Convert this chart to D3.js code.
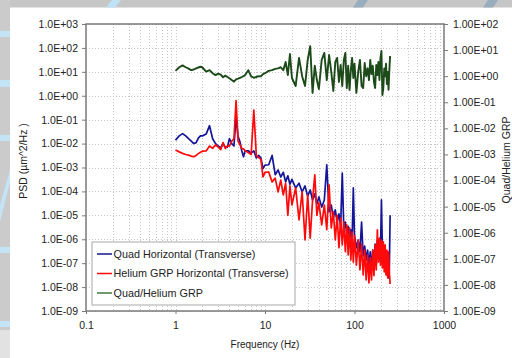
<!DOCTYPE html>
<html><head><meta charset="utf-8">
<script src="https://cdn.jsdelivr.net/npm/d3@7"></script>
<style>
body{margin:0;overflow:hidden;background:#fff}
svg{display:block}
text{font-family:"Liberation Sans",Arial,sans-serif;fill:#222}
</style>
</head><body>
<svg id="c" width="512" height="358"></svg>
<script>
// ---------------- data ----------------
const freq = [1,1.1,1.2,1.3,1.4,1.5,1.6,1.7,1.8,1.9,2,2.2,2.4,2.6,2.8,3,3.2,3.4,3.6,3.8,4,4.25,4.5,4.75,5,5.25,5.5,5.75,6,6.5,7,7.5,8,8.5,9,9.5,10,
  11,12,13,14,15,16,17,18,19,20,
  22,24,26,28,30,32,34,36,38,40,
  43,46,49,52,55,58,61,64,67,70,73,76,79,82,85,88,91,94,97,100,
  105,110,115,120,125,130,135,140,145,150,155,160,165,170,175,180,185,190,195,200,205,210,215,220,225,230,235,240,245,250];

const quadH = [1.4e-2,2.1e-2,2.6e-2,2.1e-2,1.6e-2,1.26e-2,1.0e-2,1.1e-2,1.7e-2,2.1e-2,2.1e-2,2.5e-2,5.6e-2,1.6e-2,1.0e-2,7.9e-3,6.6e-3,1.0e-2,7.1e-3,7.1e-3,1.6e-2,1.0e-2,7.9e-3,1.26e-1,2.0e-2,1.2e-2,5.0e-3,2.8e-3,5.0e-3,5.0e-3,4.0e-3,5.0e-3,2.5e-3,3.2e-3,2.5e-3,8.9e-4,1.26e-3,
  1.3e-3,3.2e-3,5.0e-4,7.9e-4,4.0e-4,6.3e-4,2.5e-4,4.5e-4,2.0e-4,3.2e-4,
  1.4e-4,2.2e-4,9.5e-5,1.7e-4,6.3e-5,1.15e-4,4.4e-5,7.9e-5,3.0e-5,5.9e-5,
  2.2e-5,4.4e-5,1.3e-3,1.4e-5,2.7e-5,7.9e-6,1.7e-5,5.2e-6,1.15e-5,3.5e-6,5.9e-4,2.5e-6,5.2e-6,1.7e-6,3.5e-6,1.1e-6,2.5e-6,7.1e-7,1.4e-4,1.4e-6,
  4.4e-7,9.3e-7,3.0e-7,5.2e-6,2.0e-7,5.2e-7,1.35e-7,3.5e-7,8.3e-8,3.0e-7,6.3e-8,3.5e-7,1.1e-7,6.3e-7,1.7e-7,9.3e-7,2.2e-7,1.1e-6,3.0e-7,4.4e-5,3.5e-7,1.1e-7,2.2e-7,6.3e-8,1.1e-7,3.2e-8,6.3e-8,2.4e-8,5.2e-8,1.0e-5];

const heliumH = [5.4e-3,4.5e-3,3.9e-3,3.5e-3,3.3e-3,3.0e-3,2.8e-3,3.2e-3,3.8e-3,4.3e-3,4.8e-3,4.9e-3,7.9e-3,6.3e-3,8.9e-3,7.1e-3,5.6e-3,1.1e-2,6.3e-3,7.9e-3,7.9e-3,1.26e-2,1.6e-2,6.3e-1,1.26e-2,8.9e-3,6.3e-3,6.0e-3,5.0e-3,4.2e-3,3.5e-3,2.5e-1,3.2e-3,2.6e-3,2.2e-3,4.0e-4,6.3e-4,
  6.5e-4,2.5e-4,3.6e-4,9.5e-5,3.0e-4,7.1e-5,2.2e-4,1.0e-5,1.7e-4,2.7e-5,
  1.4e-4,6.5e-6,9.5e-5,9.3e-7,7.1e-5,1.1e-6,4.4e-5,4.9e-4,1.0e-5,3.3e-5,
  4.0e-6,2.7e-5,2.5e-6,1.9e-4,3.0e-6,1.4e-5,9.3e-7,1.0e-5,4.4e-7,7.8e-6,5.8e-7,5.2e-6,3.0e-7,4.0e-6,2.2e-7,3.0e-6,1.35e-7,2.0e-6,1.1e-7,1.4e-6,
  8.3e-8,9.3e-7,5.2e-8,6.3e-7,3.2e-8,3.5e-7,2.0e-8,2.2e-7,1.5e-8,1.7e-7,2.0e-8,3.5e-7,3.0e-8,5.8e-7,5.2e-8,2.5e-6,1.1e-7,1.1e-6,8.3e-8,9.3e-7,6.3e-8,7.8e-7,4.3e-8,5.8e-7,3.2e-8,3.5e-7,2.4e-8,3.0e-7,4.3e-8,1.35e-8];

const ratio = [1.6,2.2,2.6,2.2,1.95,1.7,1.8,2.0,2.15,2.3,2.15,1.5,1.7,1.3,1.1,1.26,1.15,0.91,1.05,0.93,0.83,0.71,0.62,0.76,0.81,0.87,0.93,1.0,1.1,1.7,0.98,0.87,0.93,1.0,0.98,1.2,1.3,
  1.6,1.7,1.9,2.0,2.2,1.7,3.5,1.1,7.1,0.85,
  0.42,5.0,1.0,0.42,4.2,14,0.23,2.5,0.71,0.32,
  4.2,7.8,0.71,6.5,1.45,0.27,3.5,5.0,0.6,2.7,0.42,4.2,7.8,0.35,2.5,0.3,1.7,5.0,0.85,3.0,
  0.23,1.45,4.2,0.42,0.35,3.2,1.0,2.0,0.71,4.2,1.2,2.5,0.6,0.35,2.7,1.1,3.5,0.71,5.0,9.3,0.19,0.35,2.0,1.0,3.0,0.5,1.45,0.3,1.7,5.9];

const seriesNames = ["Quad Horizontal (Transverse)","Helium GRP Horizontal (Transverse)","Quad/Helium GRP"];
const xTickValues = [0.1,1,10,100,1000];
const xTickLabels = ["0.1","1","10","100","1000"];
const leftTickValues = [1e3,1e2,1e1,1e0,1e-1,1e-2,1e-3,1e-4,1e-5,1e-6,1e-7,1e-8,1e-9];
const leftTickLabels = ["1.0E+03","1.0E+02","1.0E+01","1.0E+00","1.0E-01","1.0E-02","1.0E-03","1.0E-04","1.0E-05","1.0E-06","1.0E-07","1.0E-08","1.0E-09"];
const rightTickValues = [1e2,1e1,1e0,1e-1,1e-2,1e-3,1e-4,1e-5,1e-6,1e-7,1e-8,1e-9];
const rightTickLabels = ["1.00E+02","1.00E+01","1.00E+00","1.00E-01","1.00E-02","1.00E-03","1.00E-04","1.00E-05","1.00E-06","1.00E-07","1.00E-08","1.00E-09"];
const xTitle = "Frequency (Hz)";
const yLeftTitle = "PSD (\u00b5m^2/Hz )";
const yRightTitle = "Quad/Helium GRP";

// ---------------- drawing ----------------
const W = 512, H = 358;
const P = {l:86, t:24, r:444, b:311};
const svg = d3.select("#c");

svg.append("rect").attr("width",W).attr("height",H).attr("fill","#fff");

// slide background decoration (top and left strips)
const deco = svg.append("g");
deco.append("rect").attr("x",0).attr("y",0).attr("width",W).attr("height",7.5).attr("fill","#c6c6c6");
deco.append("rect").attr("x",0).attr("y",0).attr("width",10).attr("height",H).attr("fill","#cbcbcb");
deco.append("rect").attr("x",0).attr("y",330).attr("width",10).attr("height",28).attr("fill","#e2e2e2");
[[31,37],[80,87],[135,141],[247,253],[321,327]].forEach(([a,b])=>
  deco.append("rect").attr("x",0).attr("y",a).attr("width",10).attr("height",b-a).attr("fill","#c2e4f6"));
deco.append("path").attr("d","M0,205 L10,170 L10,182 L0,222 Z").attr("fill","#c2e4f6");
deco.append("path").attr("d","M106,7.5 L112,0 L121,0 L115,7.5 Z").attr("fill","#bfe2f6");
deco.append("path").attr("d","M353,7.5 L358,0 L368,0 L363,7.5 Z").attr("fill","#98adbd");
deco.append("path").attr("d","M483,7.5 L488,0 L498,0 L493,7.5 Z").attr("fill","#98adbd");

const x = d3.scaleLog().domain([0.1,1000]).range([P.l,P.r]);
const yL = d3.scaleLog().domain([1e-9,1e3]).range([P.b,P.t]);
const yR = d3.scaleLog().domain([1e-9,1e2]).range([P.b,P.t]);

// grid
const grid = svg.append("g").attr("stroke","#c4c4c4").attr("stroke-width",1).attr("stroke-dasharray","1,2");
const xGrid = [];
for (let e=-1;e<3;e++) for (let m=1;m<10;m++) xGrid.push(m*Math.pow(10,e));
xGrid.filter(v=>v>0.1).forEach(v=>{
  grid.append("line").attr("x1",Math.round(x(v))+0.5).attr("x2",Math.round(x(v))+0.5).attr("y1",P.t).attr("y2",P.b);
});
leftTickValues.forEach(v=>{
  grid.append("line").attr("x1",P.l).attr("x2",P.r).attr("y1",Math.round(yL(v))+0.5).attr("y2",Math.round(yL(v))+0.5);
});

// series
const pts = (vals)=>freq.map((f,i)=>({f, v:vals[i]}));
const lineL = d3.line().x(d=>x(d.f)).y(d=>yL(d.v));
const lineR = d3.line().x(d=>x(d.f)).y(d=>yR(d.v));
const colors = ["#15159a","#ff0a0a","#1c4a19"];
svg.append("path").attr("d",lineL(pts(quadH))).attr("fill","none").attr("stroke",colors[0]).attr("stroke-width",1.7).attr("stroke-linejoin","round");
svg.append("path").attr("d",lineL(pts(heliumH))).attr("fill","none").attr("stroke",colors[1]).attr("stroke-width",1.7).attr("stroke-linejoin","round");
svg.append("path").attr("d",lineR(pts(ratio))).attr("fill","none").attr("stroke",colors[2]).attr("stroke-width",1.9).attr("stroke-linejoin","round");

// frame
svg.append("rect").attr("x",P.l).attr("y",P.t).attr("width",P.r-P.l).attr("height",P.b-P.t)
  .attr("fill","none").attr("stroke","#7a7a7a").attr("stroke-width",1.5);

// axes
function styleAxis(g){
  g.select(".domain").remove();
  g.selectAll(".tick line").attr("stroke","#7a7a7a");
  g.selectAll(".tick text").attr("fill","#222").style("font-size","10.5px").style("font-family","'Liberation Sans',Arial,sans-serif");
}
svg.append("g").attr("transform",`translate(${P.l},0)`)
  .call(d3.axisLeft(yL).tickValues(leftTickValues).tickFormat((d,i)=>leftTickLabels[i]).tickSize(4).tickPadding(4))
  .call(styleAxis);
svg.append("g").attr("transform",`translate(${P.r},0)`)
  .call(d3.axisRight(yR).tickValues(rightTickValues).tickFormat((d,i)=>rightTickLabels[i]).tickSize(4).tickPadding(5))
  .call(styleAxis);
svg.append("g").attr("transform",`translate(0,${P.b})`)
  .call(d3.axisBottom(x).tickValues(xTickValues).tickFormat((d,i)=>xTickLabels[i]).tickSize(3).tickPadding(8))
  .call(styleAxis);

// titles
svg.append("text").attr("x",(P.l+P.r)/2).attr("y",348).attr("text-anchor","middle").style("font-size","10px").text(xTitle);
svg.append("text").attr("transform","translate(27,161) rotate(-90)").attr("text-anchor","middle").style("font-size","10.5px").text(yLeftTitle);
svg.append("text").attr("transform","translate(509.5,160) rotate(-90)").attr("text-anchor","middle").style("font-size","10.5px").text(yRightTitle);

// legend
const lg = svg.append("g");
lg.append("rect").attr("x",92).attr("y",242).attr("width",203).attr("height",63).attr("fill","#fff").attr("stroke","#a8a8a8").attr("stroke-width",1);
const rowY = [254,273.5,293];
seriesNames.forEach((n,i)=>{
  lg.append("line").attr("x1",97).attr("x2",112).attr("y1",rowY[i]).attr("y2",rowY[i]).attr("stroke",i===2?"#3f7a3f":colors[i]).attr("stroke-width",1.5);
  lg.append("text").attr("x",113.5).attr("y",rowY[i]+3.8).style("font-size","10.8px").text(n);
});
</script>
</body></html>
